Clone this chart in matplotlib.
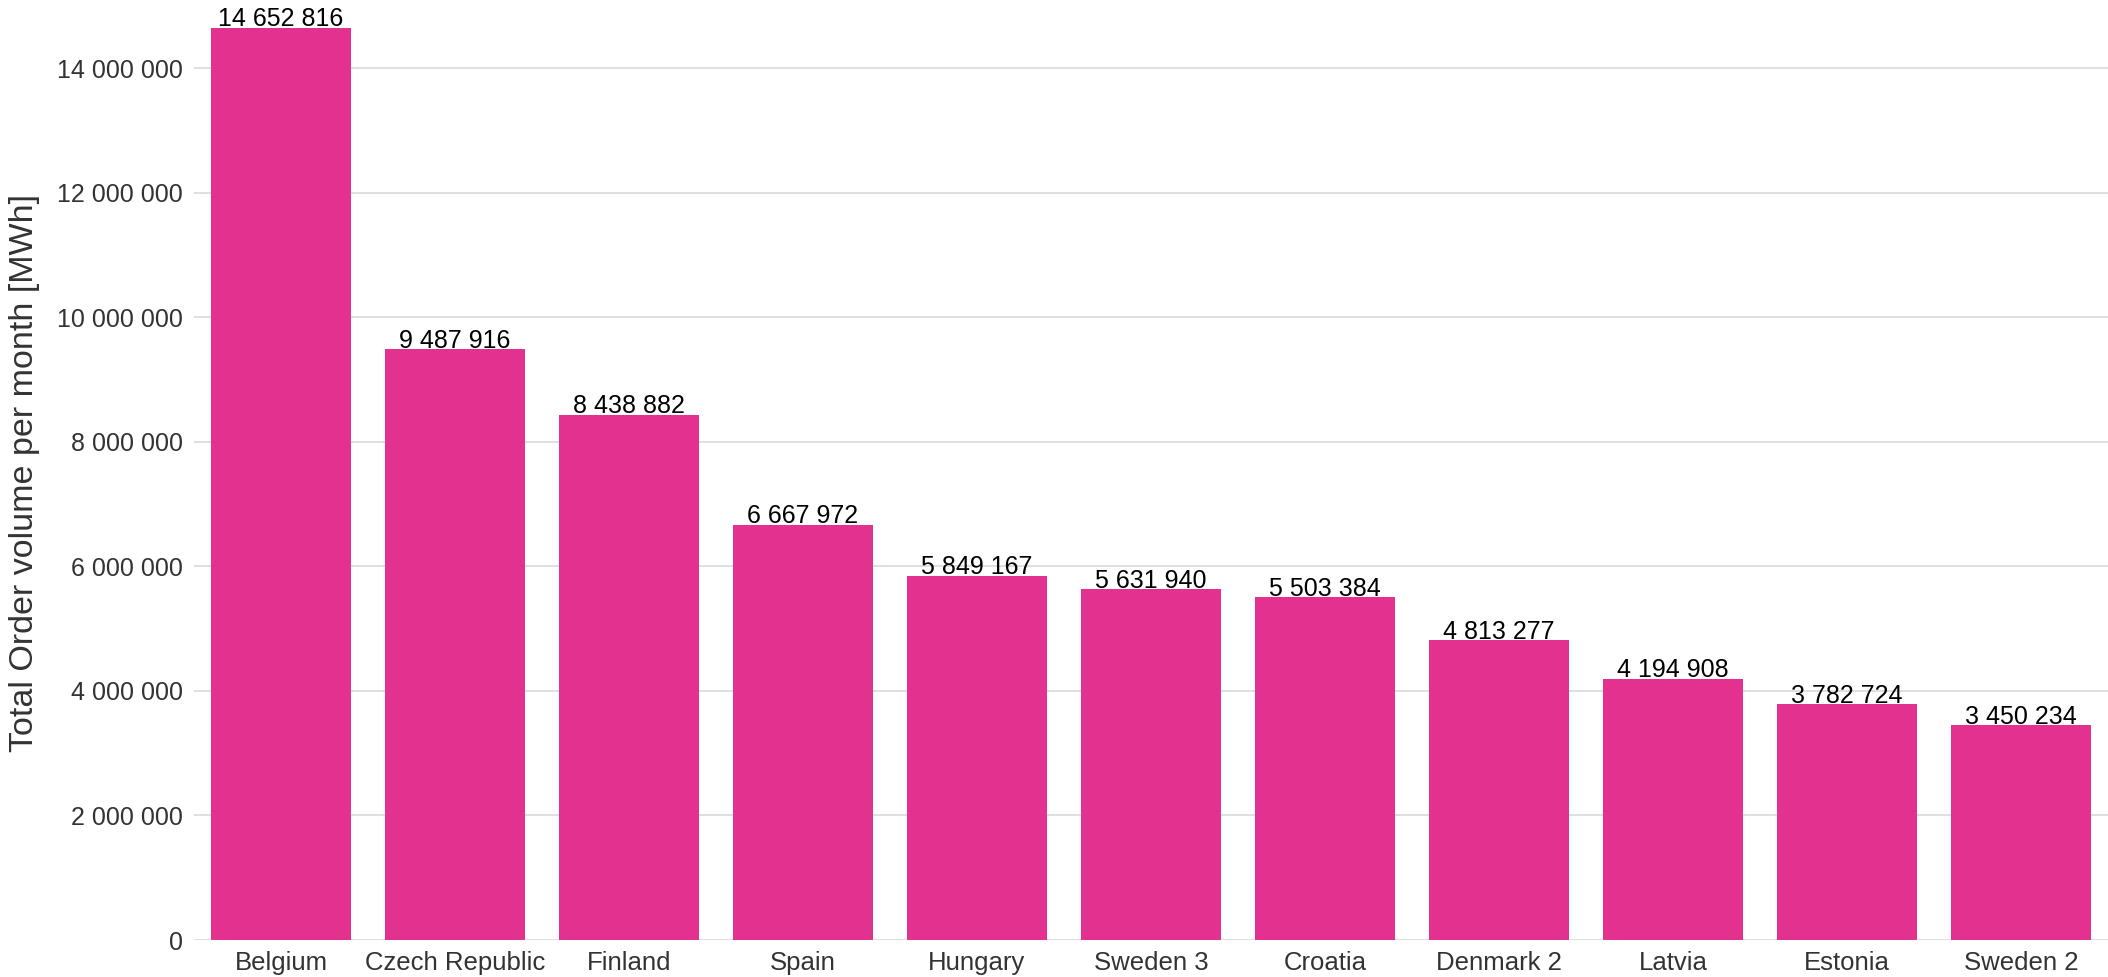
import matplotlib
matplotlib.use("Agg")
import matplotlib.pyplot as plt
from matplotlib.ticker import FuncFormatter

# data
countries = ['Belgium', 'Czech Republic', 'Finland', 'Spain', 'Hungary', 'Sweden 3',
             'Croatia', 'Denmark 2', 'Latvia', 'Estonia', 'Sweden 2']
volumes = [14652816, 9487916, 8438882, 6667972, 5849167, 5631940,
           5503384, 4813277, 4194908, 3782724, 3450234]
y_ticks = [0, 2000000, 4000000, 6000000, 8000000, 10000000, 12000000, 14000000]

plt.rcParams['font.family'] = ['Liberation Sans', 'DejaVu Sans']


def space_fmt(v, pos=None):
    return '{:,.0f}'.format(v).replace(',', ' ')


fig = plt.figure(figsize=(21.08, 9.77), dpi=100)
ax = fig.add_axes([194 / 2108, 1 - 940 / 977, 1 - 194 / 2108, (940 - 6) / 977])

bars = ax.bar(range(len(countries)), volumes, width=0.8, color='#E3318F', zorder=3)
ax.set_xlim(-0.5, len(countries) - 0.5)
ax.set_ylim(0, 15000000)

# value labels sitting right on top of the bars
for b, v in zip(bars, volumes):
    ax.annotate(space_fmt(v), (b.get_x() + b.get_width() / 2, v), xytext=(0, 1),
                textcoords='offset points', ha='center', va='baseline',
                fontsize=18, color='black')

ax.set_yticks(y_ticks)
ax.yaxis.set_major_formatter(FuncFormatter(space_fmt))
ax.set_xticks(range(len(countries)))
ax.set_xticklabels(countries)
ax.tick_params(axis='y', length=0, labelsize=18, colors='#333333', pad=8)
ax.tick_params(axis='x', length=0, labelsize=18.5, colors='#333333', pad=8)

ax.grid(axis='y', color='#d9d9d9', linewidth=1.2, zorder=0)
for s in ax.spines.values():
    s.set_visible(False)

ax.set_ylabel('Total Order volume per month [MWh]', fontsize=24.5, color='#333333', labelpad=12)

plt.savefig('out.png', dpi=100)
